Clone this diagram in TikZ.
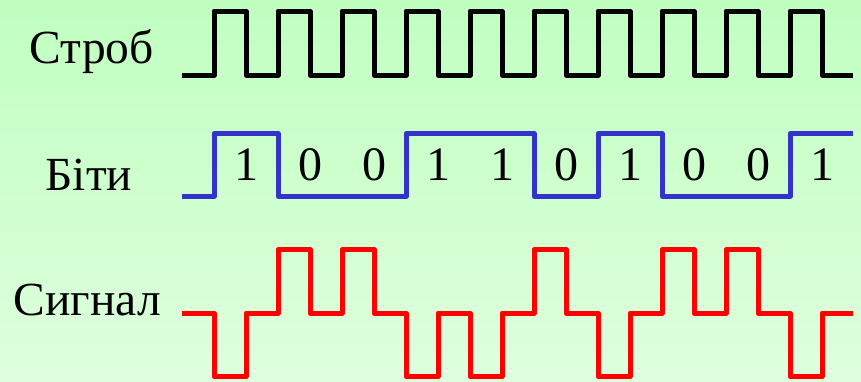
\documentclass[tikz,border=0pt]{standalone}
\usepackage{fontspec}
\setmainfont{Liberation Serif}
\definecolor{bgtop}{RGB}{192,255,192}
\definecolor{bgbot}{RGB}{222,255,222}
\definecolor{bitblue}{RGB}{51,51,204}
\definecolor{sigred}{RGB}{255,0,0}
\tikzset{
  wave/.style={line width=5pt, line join=round, line cap=butt},
  lbl/.style={anchor=base west, inner sep=0pt, font=\fontsize{47.5}{57}\selectfont},
  digit/.style={anchor=base, inner sep=0pt, font=\fontsize{48}{57}\selectfont}
}
\begin{document}
\begin{tikzpicture}[x=1pt,y=-1pt]
\useasboundingbox (0,0) rectangle (861,381);
\shade[top color=bgtop, bottom color=bgbot] (0,0) rectangle (861,381);
% labels
\node[lbl] (lstrob) at (29.5,63) {Строб};
\node[lbl] (lbits) at (45.5,190) {Біти};
\node[lbl] (lsig) at (13.5,315) {Сигнал};
% strobe
\draw[wave, black] (182,75)
  foreach \k in {0,...,9} { -- ({214+64*\k},75) -- ({214+64*\k},11) -- ({246+64*\k},11) -- ({246+64*\k},75) }
  -- (853,75);
% bits
\draw[wave, bitblue] (182,196) -- (214,196) -- (214,133.5) -- (278,133.5) -- (278,196)
  -- (406,196) -- (406,133.5) -- (534,133.5) -- (534,196) -- (598,196) -- (598,133.5)
  -- (662,133.5) -- (662,196) -- (790,196) -- (790,133.5) -- (853,133.5);
\foreach \b [count=\i from 0] in {1,0,0,1,1,0,1,0,0,1}
  \node[digit] (d\i) at ({246+64*\i},180) {\b};
% signal
\draw[wave, sigred] (182,313) -- (214,313) -- (214,376.5) -- (246,376.5) -- (246,313)
  -- (278,313) -- (278,249.5) -- (310,249.5) -- (310,313) -- (342,313) -- (342,249.5)
  -- (374,249.5) -- (374,313) -- (406,313) -- (406,376.5) -- (438,376.5) -- (438,313)
  -- (470,313) -- (470,376.5) -- (502,376.5) -- (502,313) -- (534,313) -- (534,249.5)
  -- (566,249.5) -- (566,313) -- (598,313) -- (598,376.5) -- (630,376.5) -- (630,313)
  -- (662,313) -- (662,249.5) -- (694,249.5) -- (694,313) -- (726,313) -- (726,249.5)
  -- (758,249.5) -- (758,313) -- (790,313) -- (790,376.5) -- (822,376.5) -- (822,313)
  -- (853,313);
\end{tikzpicture}
\end{document}
